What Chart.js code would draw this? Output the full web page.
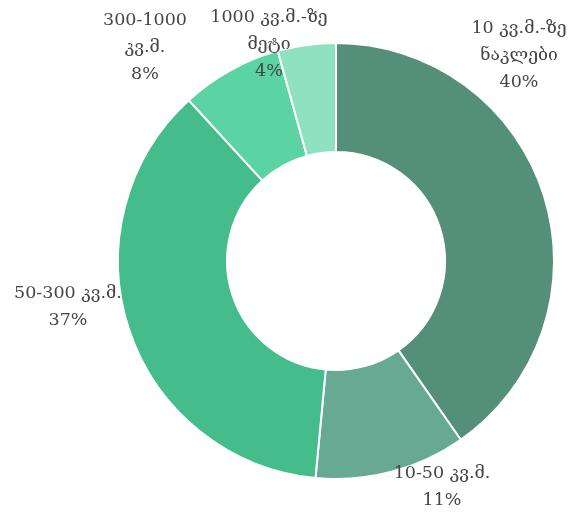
<!DOCTYPE html>
<html>
<head>
<meta charset="utf-8">
<script src="https://cdn.jsdelivr.net/npm/chart.js@4"></script>
<style>
html,body{margin:0;padding:0;background:#fff;}
#wrap{width:578px;height:512px;position:relative;}
</style>
</head>
<body>
<div id="wrap"><canvas id="c"></canvas></div>
<script>
const categories = ["10 კვ.მ.-ზე ნაკლები", "10-50 კვ.მ.", "50-300 კვ.მ.", "300-1000 კვ.მ.", "1000 კვ.მ.-ზე მეტი"];
const labelLines = [["10 კვ.მ.-ზე","ნაკლები"], ["10-50 კვ.მ."], ["50-300 კვ.მ."], ["300-1000","კვ.მ."], ["1000 კვ.მ.-ზე","მეტი"]];
const shares = [40.3, 11.2, 36.7, 7.5, 4.3];
const colors = ["#548F79", "#67A993", "#45BD8A", "#5BD3A2", "#8EE2BF"];

// label placement offsets from the doughnut centre (px)
const labelOffsets = [[183,-233],[106,212],[-268,32],[-191,-241],[-67,-244]];

const labelPlugin = {
  id: 'outLabels',
  afterDraw(chart) {
    const ctx = chart.ctx;
    const meta = chart.getDatasetMeta(0);
    const arc0 = meta.data[0];
    const cx = arc0.x, cy = arc0.y;
    ctx.save();
    ctx.fillStyle = '#454545';
    ctx.font = '17.5px "DejaVu Serif", "Liberation Serif", serif';
    ctx.textAlign = 'center';
    ctx.textBaseline = 'middle';
    const lh = 27;
    meta.data.forEach((arc, i) => {
      const lines = labelLines[i].concat([Math.round(shares[i]) + '%']);
      const x = cx + labelOffsets[i][0];
      let y = cy + labelOffsets[i][1];
      lines.forEach((t, j) => ctx.fillText(t, x, y + j * lh));
    });
    ctx.restore();
  }
};

new Chart(document.getElementById('c'), {
  type: 'doughnut',
  data: {
    labels: categories,
    datasets: [{
      data: shares,
      backgroundColor: colors,
      borderColor: '#ffffff',
      borderWidth: 2,
      hoverOffset: 0
    }]
  },
  options: {
    responsive: true,
    maintainAspectRatio: false,
    animation: false,
    cutout: '50%',
    layout: { padding: { top: 42, bottom: 32, left: 100, right: 6 } },
    plugins: { legend: { display: false }, tooltip: { enabled: false } }
  },
  plugins: [labelPlugin]
});
</script>
</body>
</html>
